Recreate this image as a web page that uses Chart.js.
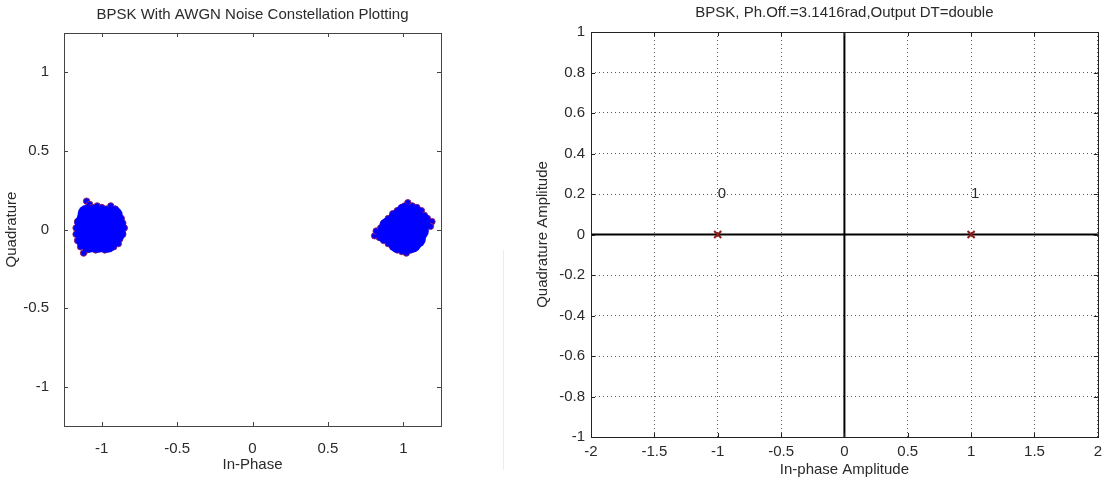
<!DOCTYPE html>
<html>
<head>
<meta charset="utf-8">
<script src="https://cdn.jsdelivr.net/npm/chart.js@4.4.1/dist/chart.umd.min.js"></script>
<style>
  html, body { margin: 0; padding: 0; background: #fff; }
  body { width: 1108px; height: 482px; position: relative; overflow: hidden; }
  .panel { position: absolute; top: 0; }
  #leftPanel { left: 0; width: 540px; height: 482px; }
  #rightPanel { left: 520px; width: 588px; height: 482px; }
  #seam { position: absolute; left: 503px; top: 250px; width: 1px; height: 220px; background: #ececec; }
</style>
</head>
<body>
<div id="seam"></div>
<div class="panel" id="leftPanel"><canvas id="awgnChart" width="540" height="482"></canvas></div>
<div class="panel" id="rightPanel"><canvas id="constChart" width="588" height="482"></canvas></div>
<script>
// --- datos ---
// cluster en -1 (borde y nucleo)
const leftEdgeI = [-1.10, -1.08, -1.06, -1.03, -1.00, -0.97, -0.94, -0.91, -0.89, -0.87, -0.86, -0.85, -0.86, -0.88, -0.89,
  -0.92, -0.95, -0.98, -1.01, -1.04, -1.07, -1.10, -1.12, -1.14, -1.16, -1.17, -1.17, -1.16, -1.14, -1.12];
const leftEdgeQ = [0.18, 0.16, 0.14, 0.15, 0.14, 0.13, 0.15, 0.13, 0.10, 0.07, 0.04, 0.01, -0.03, -0.06, -0.09,
  -0.11, -0.12, -0.13, -0.12, -0.13, -0.12, -0.13, -0.15, -0.11, -0.07, -0.03, 0.01, 0.05, 0.08, 0.11];
const leftCoreI = [-1.10, -1.04, -0.98, -0.92, -1.12, -1.06, -1.00, -0.94, -0.90, -1.12, -1.06, -1.00, -0.94, -0.90,
  -1.11, -1.05, -0.99, -0.93, -1.08, -1.02, -0.96];
const leftCoreQ = [0.10, 0.10, 0.09, 0.09, 0.04, 0.04, 0.04, 0.04, 0.03, -0.02, -0.02, -0.01, -0.02, -0.02,
  -0.07, -0.07, -0.07, -0.06, -0.09, -0.09, -0.09];

// cluster en +1
const rightEdgeI = [1.03, 1.06, 1.09, 1.12, 1.14, 1.16, 1.19, 1.18, 1.14, 1.13, 1.12, 1.10, 1.08,
  1.05, 1.02, 0.99, 0.96, 0.93, 0.90, 0.87, 0.84, 0.81, 0.82, 0.85, 0.87, 0.90, 0.93, 0.96, 0.99, 1.01];
const rightEdgeQ = [0.17, 0.15, 0.14, 0.12, 0.09, 0.07, 0.05, 0.02, 0.01, -0.02, -0.05, -0.08, -0.11,
  -0.13, -0.15, -0.14, -0.13, -0.11, -0.09, -0.07, -0.05, -0.04, -0.01, 0.01, 0.04, 0.07, 0.10, 0.12, 0.14, 0.15];
const rightCoreI = [1.01, 1.07, 0.96, 1.02, 1.08, 1.12, 0.90, 0.95, 1.01, 1.07, 1.11, 0.88, 0.93, 0.99, 1.05, 1.09,
  0.96, 1.02, 1.06];
const rightCoreQ = [0.11, 0.10, 0.07, 0.06, 0.05, 0.05, 0.02, 0.01, 0.00, 0.00, -0.01, -0.03, -0.05, -0.05, -0.05, -0.06,
  -0.09, -0.10, -0.09];

const awgnTicks = [-1, -0.5, 0, 0.5, 1];
const awgnTickLabels = ["-1", "-0.5", "0", "0.5", "1"];

// constelacion ideal
const symbolI = [-1, 1];
const symbolQ = [0, 0];
const symbolLabels = ["0", "1"];
const constXTicks = [-2, -1.5, -1, -0.5, 0, 0.5, 1, 1.5, 2];
const constXLabels = ["-2", "-1.5", "-1", "-0.5", "0", "0.5", "1", "1.5", "2"];
const constYTicks = [-1, -0.8, -0.6, -0.4, -0.2, 0, 0.2, 0.4, 0.6, 0.8, 1];
const constYLabels = ["-1", "-0.8", "-0.6", "-0.4", "-0.2", "0", "0.2", "0.4", "0.6", "0.8", "1"];

const FONT = "'Liberation Sans', Arial, sans-serif";
const TEXT = "#2a2a2a";

function toPoints(xs, ys) {
  return xs.map((x, i) => ({ x: x, y: ys[i] }));
}

// caja estilo MATLAB con ticks hacia dentro y titulo
function framePlugin(title, titleY, tickLen, boxColor) {
  return {
    id: "frame",
    afterDraw(chart) {
      const { ctx, chartArea: a, scales } = chart;
      ctx.save();
      ctx.strokeStyle = boxColor;
      ctx.lineWidth = 1;
      ctx.strokeRect(Math.round(a.left) + 0.5, Math.round(a.top) + 0.5,
        Math.round(a.right - a.left), Math.round(a.bottom - a.top));
      ctx.beginPath();
      scales.x.ticks.forEach(t => {
        const px = Math.round(scales.x.getPixelForValue(t.value)) + 0.5;
        ctx.moveTo(px, a.bottom); ctx.lineTo(px, a.bottom - tickLen);
        ctx.moveTo(px, a.top); ctx.lineTo(px, a.top + tickLen);
      });
      scales.y.ticks.forEach(t => {
        const py = Math.round(scales.y.getPixelForValue(t.value)) + 0.5;
        ctx.moveTo(a.left, py); ctx.lineTo(a.left + tickLen, py);
        ctx.moveTo(a.right, py); ctx.lineTo(a.right - tickLen, py);
      });
      ctx.stroke();
      ctx.fillStyle = TEXT;
      ctx.font = "15px " + FONT;
      ctx.textAlign = "center";
      ctx.textBaseline = "middle";
      ctx.fillText(title, (a.left + a.right) / 2, titleY);
      ctx.restore();
    }
  };
}

function axisFont() {
  return { family: FONT, size: 15 };
}

// Grafico 1: BPSK con ruido AWGN
new Chart(document.getElementById("awgnChart"), {
  type: "scatter",
  data: {
    datasets: [
      {
        label: "core",
        data: toPoints(leftCoreI.concat(rightCoreI), leftCoreQ.concat(rightCoreQ)),
        pointRadius: 9,
        backgroundColor: "#0000ff",
        borderColor: "#0000ff",
        borderWidth: 0
      },
      {
        label: "edge",
        data: toPoints(leftEdgeI.concat(rightEdgeI), leftEdgeQ.concat(rightEdgeQ)),
        pointRadius: 3.2,
        backgroundColor: "#0000ff",
        borderColor: "#8e2468",
        borderWidth: 1
      }
    ]
  },
  options: {
    responsive: false,
    animation: false,
    events: [],
    layout: { padding: { top: 33, right: 99, left: 0, bottom: 0 } },
    plugins: { legend: { display: false }, tooltip: { enabled: false } },
    scales: {
      x: {
        type: "linear", min: -1.25, max: 1.25,
        afterBuildTicks: s => { s.ticks = awgnTicks.map(v => ({ value: v })); },
        afterFit: s => { s.height = 56; },
        grid: { display: false },
        border: { display: false },
        ticks: { padding: 6, color: TEXT, font: axisFont(), callback: (v, i) => awgnTickLabels[i] },
        title: { display: true, text: "In-Phase", color: TEXT, font: axisFont(), padding: { top: 0, bottom: 8 } }
      },
      y: {
        type: "linear", min: -1.25, max: 1.25,
        afterBuildTicks: s => { s.ticks = awgnTicks.map(v => ({ value: v })); },
        afterFit: s => { s.width = 64; },
        grid: { display: false },
        border: { display: false },
        ticks: { padding: 7, color: TEXT, font: axisFont(), callback: (v, i) => awgnTickLabels[i] },
        title: { display: true, text: "Quadrature", color: TEXT, font: axisFont(), padding: { top: 3, bottom: 0 } }
      }
    }
  },
  plugins: [framePlugin("BPSK With AWGN Noise Constellation Plotting", 15, 4, "#444")]
});

// ejes en cero y etiquetas de simbolos
const zeroAxesPlugin = {
  id: "zeroAxes",
  beforeDatasetsDraw(chart) {
    const { ctx, chartArea: a, scales } = chart;
    const x0 = scales.x.getPixelForValue(0);
    const y0 = scales.y.getPixelForValue(0);
    ctx.save();
    ctx.strokeStyle = "#000";
    ctx.lineWidth = 2;
    ctx.beginPath();
    ctx.moveTo(x0, a.top); ctx.lineTo(x0, a.bottom);
    ctx.moveTo(a.left, y0); ctx.lineTo(a.right, y0);
    ctx.stroke();
    ctx.fillStyle = TEXT;
    ctx.font = "15px " + FONT;
    ctx.textAlign = "left";
    ctx.textBaseline = "middle";
    symbolLabels.forEach((txt, i) => {
      ctx.fillText(txt, scales.x.getPixelForValue(symbolI[i]), scales.y.getPixelForValue(symbolQ[i] + 0.2));
    });
    ctx.restore();
  }
};

// Grafico 2: constelacion BPSK
new Chart(document.getElementById("constChart"), {
  type: "scatter",
  data: {
    datasets: [{
      label: "symbols",
      data: toPoints(symbolI, symbolQ),
      pointStyle: "crossRot",
      pointRadius: 5,
      borderColor: "#8b1c1c",
      borderWidth: 2
    }]
  },
  options: {
    responsive: false,
    animation: false,
    events: [],
    layout: { padding: { top: 32, right: 2, left: 0, bottom: 0 } },
    plugins: { legend: { display: false }, tooltip: { enabled: false } },
    scales: {
      x: {
        type: "linear", min: -2, max: 2,
        afterBuildTicks: s => { s.ticks = constXTicks.map(v => ({ value: v })); },
        afterFit: s => { s.height = 45; },
        grid: { color: "rgba(0,0,0,0.65)", lineWidth: 1, drawTicks: false },
        border: { display: false, dash: [1, 3] },
        ticks: { padding: 6, color: TEXT, font: axisFont(), callback: (v, i) => constXLabels[i] },
        title: { display: true, text: "In-phase Amplitude", color: TEXT, font: axisFont(), padding: { top: 0, bottom: 3 } }
      },
      y: {
        type: "linear", min: -1, max: 1,
        afterBuildTicks: s => { s.ticks = constYTicks.map(v => ({ value: v })); },
        afterFit: s => { s.width = 71; },
        grid: { color: "rgba(0,0,0,0.65)", lineWidth: 1, drawTicks: false },
        border: { display: false, dash: [1, 3] },
        ticks: { padding: 6, color: TEXT, font: axisFont(), callback: (v, i) => constYLabels[i] },
        title: { display: true, text: "Quadrature Amplitude", color: TEXT, font: axisFont(), padding: { top: 14, bottom: 0 } }
      }
    }
  },
  plugins: [zeroAxesPlugin, framePlugin("BPSK, Ph.Off.=3.1416rad,Output DT=double", 13, 4, "#222")]
});
</script>
</body>
</html>
